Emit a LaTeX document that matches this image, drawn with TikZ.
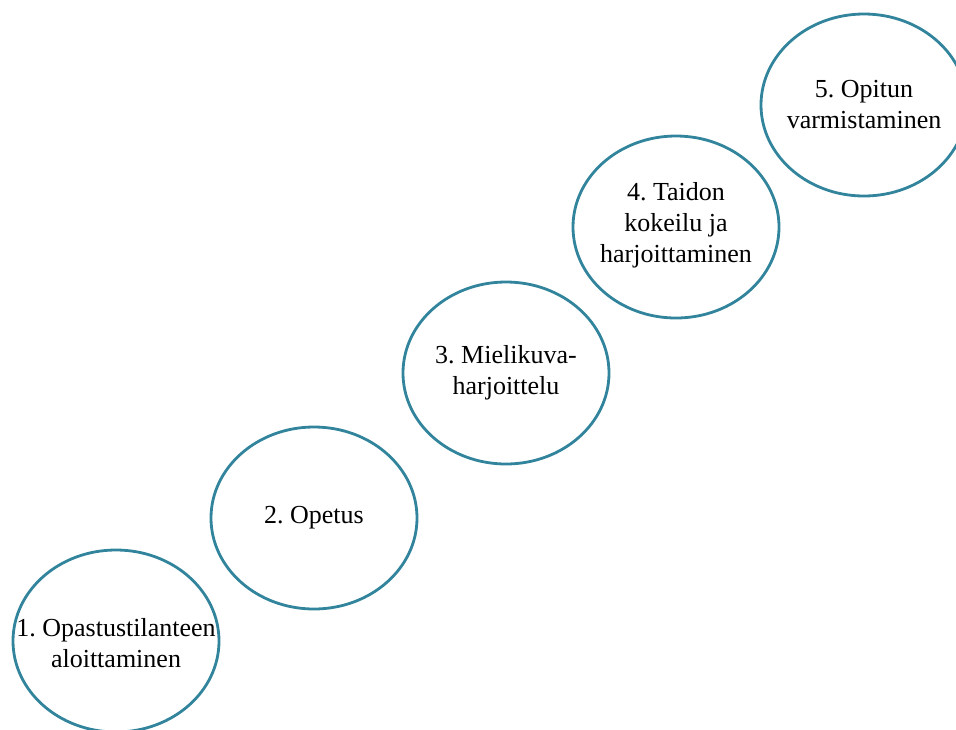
\documentclass[tikz,border=0pt]{standalone}
\usepackage{fontspec}
\setmainfont{Liberation Serif}
\frenchspacing
\usetikzlibrary{shapes.geometric}
\definecolor{ring}{HTML}{31849B}
\begin{document}
\begin{tikzpicture}[x=1pt,y=-1pt,
  stage/.style={ellipse, draw=ring, line width=2.8pt, minimum width=206pt, minimum height=182pt, inner sep=0pt},
  stagetext/.style={align=center, font=\fontsize{26}{31}\selectfont, text=black, inner sep=0pt}]
\useasboundingbox (0,0) rectangle (956,729);
\node[stage] (s1) at (116,641) {};
\node[stagetext] (t1) at ([yshift=-2pt]s1.center) {1. Opastustilanteen\\aloittaminen};
\node[stage] (s2) at (314,518) {};
\node[stagetext] (t2) at (s2.center) {2. Opetus};
\node[stage] (s3) at (506,373) {};
\node[stagetext] (t3) at (s3.center) {3. Mielikuva-\\harjoittelu};
\node[stage] (s4) at (676,227) {};
\node[stagetext] (t4) at ([yshift=2pt]s4.center) {4. Taidon\\kokeilu ja\\harjoittaminen};
\node[stage] (s5) at (864,105) {};
\node[stagetext] (t5) at (s5.center) {5. Opitun\\varmistaminen};
\end{tikzpicture}
\end{document}
